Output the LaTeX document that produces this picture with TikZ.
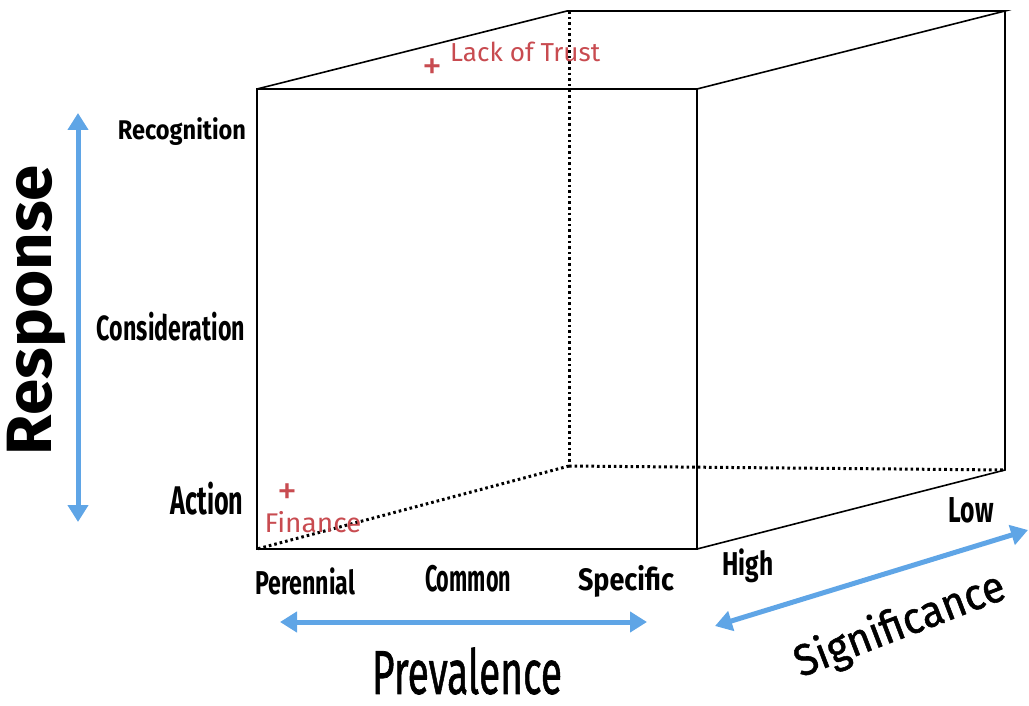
\documentclass[tikz,border=0pt]{standalone}
\usepackage{fontspec}
\setmainfont{Fira Sans}
\newfontfamily\firaheavy[FakeBold=1.2]{Fira Sans}
\usetikzlibrary{arrows.meta}
\definecolor{axisblue}{RGB}{95,165,230}
\definecolor{markred}{RGB}{200,75,80}
% set a label to a fixed width while keeping its natural height
\newcommand\wfit[2]{\resizebox{#1}{\height}{#2}}

\begin{document}
\begin{tikzpicture}[x=1pt,y=-1pt,
  edge/.style={line width=1.6pt, black, line join=miter},
  hidden/.style={line width=3pt, black, dash pattern=on 2.6pt off 3pt},
  axis/.style={line width=5pt, axisblue,
    {Triangle[width=20pt,length=17pt]}-{Triangle[width=20pt,length=17pt]}},
  lbl/.style={inner sep=0pt, font=\bfseries},
  redtxt/.style={inner sep=0pt, text=markred},
  plus/.style={inner sep=0pt, text=markred, font=\fontsize{40}{40}\selectfont}]

\useasboundingbox (0,0) rectangle (1029,706);

% cube corners: front face and back face
\coordinate (f1) at (257,89);
\coordinate (f2) at (697,89);
\coordinate (f3) at (697,549);
\coordinate (f4) at (257,549);
\coordinate (b1) at (567,11);
\coordinate (b2) at (1005,11);
\coordinate (b3) at (1005,470);
\coordinate (b4) at (569,466);
\coordinate (b1v) at (569,11);

% hidden edges
\draw[hidden] (b1v) -- (b4);
\draw[hidden] (b4) -- (f4);
\draw[hidden] (b4) -- (b3);

% visible edges
\draw[edge] (f1) -- (f2) -- (f3) -- (f4) -- cycle;
\draw[edge] (f1) -- (b1) -- (b2) -- (f2);
\draw[edge] (b2) -- (b3) -- (f3);

% axis arrows
\coordinate (rTop) at (78,113);
\coordinate (rBot) at (78,522);
\coordinate (pL) at (280,622);
\coordinate (pR) at (647,622);
\coordinate (sL) at (715,626);
\coordinate (sR) at (1028,530);
\draw[axis] (rTop) -- (rBot);
\draw[axis] (pL) -- (pR);
\draw[axis] (sL) -- (sR);

% response levels
\node[lbl, font=\bfseries\fontsize{27}{27}\selectfont] (recog) at (182,132) {\wfit{128pt}{Recognition}};
\node[lbl, font=\bfseries\fontsize{35}{35}\selectfont] (consid) at (171,327) {\wfit{148pt}{Consideration}};
\node[lbl, font=\bfseries\fontsize{40}{40}\selectfont] (action) at (207,499) {\wfit{73pt}{Action}};
\node[lbl, font=\bfseries\fontsize{64}{64}\selectfont, rotate=90] (resp) at (36,310) {\wfit{290pt}{Response}};

% prevalence levels
\node[lbl, font=\bfseries\fontsize{33}{33}\selectfont] (peren) at (305,581) {\wfit{100pt}{Perennial}};
\node[lbl, font=\bfseries\fontsize{37}{37}\selectfont] (common) at (468,579) {\wfit{86pt}{Common}};
\node[lbl, font=\bfseries\fontsize{31}{31}\selectfont] (spec) at (626,581) {\wfit{96pt}{Specific}};
\node[inner sep=0pt, font=\firaheavy\fontsize{62}{62}\selectfont] (prev) at (467,671) {\wfit{190pt}{Prevalence}};

% significance levels
\node[lbl, font=\bfseries\fontsize{33}{33}\selectfont] (high) at (748,566) {\wfit{51pt}{High}};
\node[lbl, font=\bfseries\fontsize{36}{36}\selectfont] (low) at (971,510) {\wfit{45pt}{Low}};
\node[inner sep=0pt, font=\firaheavy\fontsize{44}{44}\selectfont, rotate=21] (signif) at (900,626) {\wfit{222pt}{Significance}};

% plotted items
\node[plus] (trustMark) at (432,69) {+};
\node[redtxt, font=\fontsize{26}{26}\selectfont, anchor=west] (trust) at (450,52) {\wfit{150pt}{Lack of Trust}};
\node[plus] (finMark) at (287,494) {+};
\node[redtxt, font=\fontsize{27}{27}\selectfont] (fin) at (313,522) {\wfit{97pt}{Finance}};

\end{tikzpicture}
\end{document}
